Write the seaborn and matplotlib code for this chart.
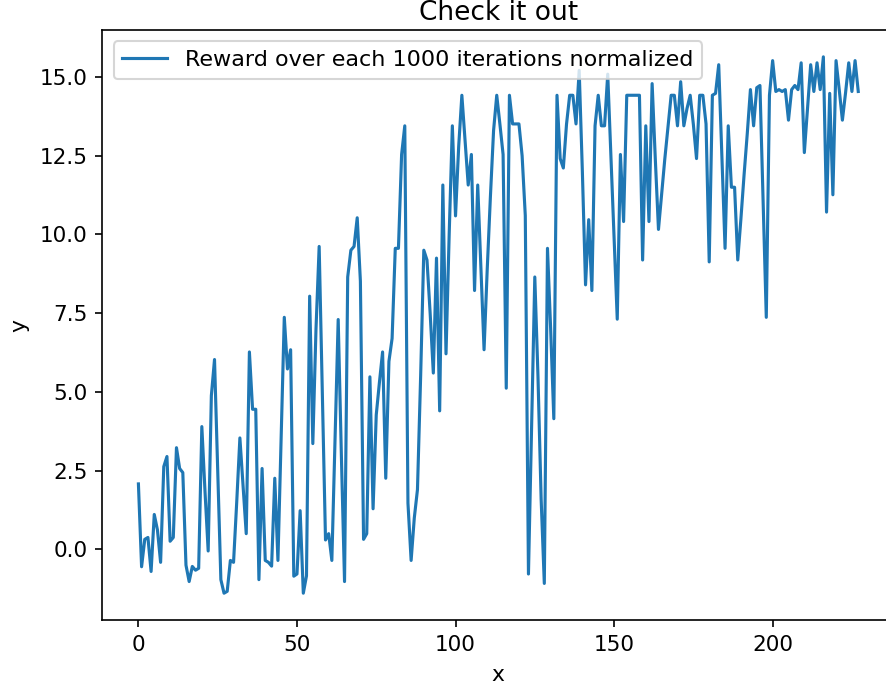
import matplotlib
matplotlib.use("Agg")
import matplotlib.pyplot as plt
import seaborn as sns
import pandas as pd
import numpy as np

reward = [
    2.08, -0.55, 0.32, 0.38, -0.7, 1.11, 0.62, -0.41, 2.63, 2.95,
    0.26, 0.38, 3.23, 2.57, 2.44, -0.5, -1.02, -0.54, -0.66, -0.6,
    3.9, 1.84, -0.05, 4.88, 6.03, 2.5, -0.96, -1.39, -1.33, -0.35,
    -0.41, 1.5, 3.54, 2.0, 0.5, 6.27, 4.45, 4.45, -0.96, 2.57,
    -0.35, -0.41, -0.53, 2.26, -0.35, 3.5, 7.37, 5.73, 6.34, -0.85,
    -0.78, 1.23, -1.39, -0.84, 8.04, 3.36, 7.0, 9.62, 5.0, 0.3,
    0.5, -0.35, 3.5, 7.3, 3.0, -1.02, 8.65, 9.5, 9.62, 10.53,
    8.52, 0.32, 0.5, 5.48, 1.29, 4.27, 5.3, 6.27, 2.26, 5.97,
    6.7, 9.56, 9.56, 12.54, 13.45, 1.47, -0.35, 1.0, 1.9, 5.5,
    9.5, 9.19, 7.5, 5.6, 9.25, 4.4, 11.57, 6.21, 10.0, 13.45,
    10.59, 12.8, 14.42, 13.0, 11.57, 12.54, 8.22, 11.57, 9.0, 6.34,
    8.9, 11.2, 13.3, 14.42, 13.5, 12.54, 5.12, 14.42, 13.51, 13.51,
    13.51, 12.5, 10.6, -0.78, 4.0, 8.65, 5.5, 1.6, -1.08, 9.56,
    7.0, 4.15, 14.42, 12.41, 12.11, 13.5, 14.42, 14.42, 13.51, 15.21,
    12.0, 8.4, 10.47, 8.22, 13.45, 14.42, 13.45, 13.45, 15.09, 12.5,
    10.0, 7.31, 12.54, 10.41, 14.42, 14.42, 14.42, 14.42, 14.42, 9.19,
    13.45, 10.41, 14.79, 12.4, 10.16, 11.3, 12.4, 13.4, 14.42, 14.42,
    13.45, 14.85, 13.45, 14.0, 14.42, 13.5, 12.41, 14.42, 14.42, 13.51,
    9.13, 14.42, 14.48, 15.39, 12.5, 9.56, 13.45, 11.5, 11.5, 9.19,
    10.5, 11.9, 13.2, 14.6, 13.45, 14.66, 14.73, 11.0, 7.37, 14.42,
    15.52, 14.54, 14.6, 14.54, 14.6, 13.63, 14.6, 14.73, 14.6, 15.45,
    12.6, 14.0, 15.39, 14.54, 15.45, 14.6, 15.64, 10.71, 14.48, 11.26,
    15.52, 14.6, 13.63, 14.5, 15.45, 14.54, 15.52, 14.54,
]
iteration = list(range(len(reward)))

series_label = "Reward over each 1000 iterations normalized"
title_text = "Check it out"
x_label = "x"
y_label = "y"

df = pd.DataFrame({"x": iteration, "y": reward})

plt.rcParams["font.family"] = ["DejaVu Sans"]
plt.rcParams["xtick.labelsize"] = 10.3
plt.rcParams["ytick.labelsize"] = 10.3
fig = plt.figure(figsize=(886 / 150, 687 / 150), dpi=150)
ax = fig.add_axes([0.1156, 0.0975, 0.8937, 0.8588])

sns.lineplot(data=df, x="x", y="y", ax=ax, color="#1f77b4", linewidth=1.5,
             label=series_label)

ax.set_title(title_text, fontsize=12.7, pad=5)
ax.set_xlabel(x_label, fontsize=10.5, labelpad=5)
ax.set_ylabel(y_label, fontsize=10.5, labelpad=5)
ax.legend(loc="upper left", fontsize=10.7)
for s in ax.spines.values():
    s.set_color("black")
    s.set_linewidth(0.8)

fig.savefig("out.png", dpi=150)
